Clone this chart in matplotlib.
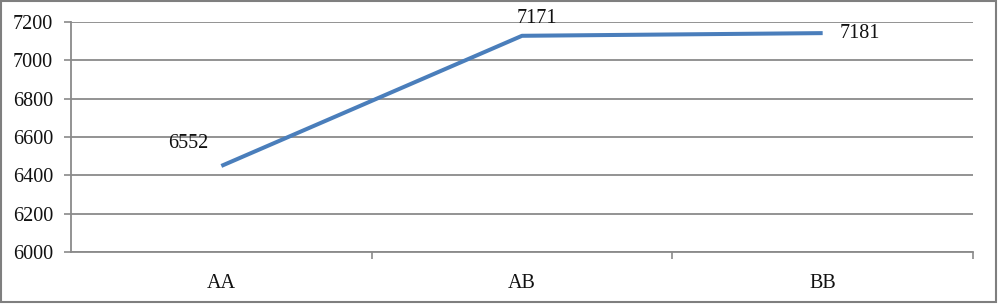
import matplotlib.pyplot as plt
from matplotlib.patches import Rectangle

# values
categories = ['AA', 'AB', 'BB']
values = [6449, 7128, 7142]          # plotted line heights
labels = ['6552', '7171', '7181']     # data labels as printed in the chart
label_offsets = [(-33, 22), (15, 17), (37, 0)]  # pixels from each point

yticks = [6000, 6200, 6400, 6600, 6800, 7000, 7200]

plt.rcParams['font.family'] = ['Liberation Serif', 'DejaVu Serif']
fs = 14.5

fig = plt.figure(figsize=(10.03, 3.07), dpi=100)
ax = fig.add_axes([71 / 1003, 1 - 252 / 307, 902 / 1003, 230 / 307])

grid_col = '#8a8a8a'
x = range(len(categories))
ax.plot(x, values, color='#4a7ebb', lw=2.9, solid_capstyle='butt', zorder=3)

for i, (lab, off) in enumerate(zip(labels, label_offsets)):
    ax.annotate(lab, (i, values[i]), xytext=off, textcoords='offset pixels',
                ha='center', va='center', fontsize=fs, color='#111111')

ax.set_xlim(-0.5, 2.5)
ax.set_ylim(6000, 7200)
ax.set_yticks(yticks)
ax.set_xticks(list(x))
ax.set_xticklabels(categories)
ax.set_xticks([0.5, 1.5, 2.5], minor=True)
ax.tick_params(axis='x', which='major', length=0, pad=16, labelsize=fs, labelcolor='#111111')
ax.tick_params(axis='x', which='minor', length=5, width=1.2, color=grid_col)
ax.tick_params(axis='y', length=5, width=1.2, color=grid_col, pad=8, labelsize=fs,
               labelcolor='#111111')

ax.grid(axis='y', color=grid_col, lw=1.3)
ax.set_axisbelow(True)
for side in ['top', 'right']:
    ax.spines[side].set_visible(False)
for side in ['left', 'bottom']:
    ax.spines[side].set_color(grid_col)
    ax.spines[side].set_linewidth(1.3)

# outer chart border
fig.patches.append(Rectangle((1 / 1003, 1 - 302 / 307), 995 / 1003, 301 / 307,
                             transform=fig.transFigure, fill=False,
                             edgecolor='#7f7f7f', lw=1.5))

fig.savefig('out.png', dpi=100)
